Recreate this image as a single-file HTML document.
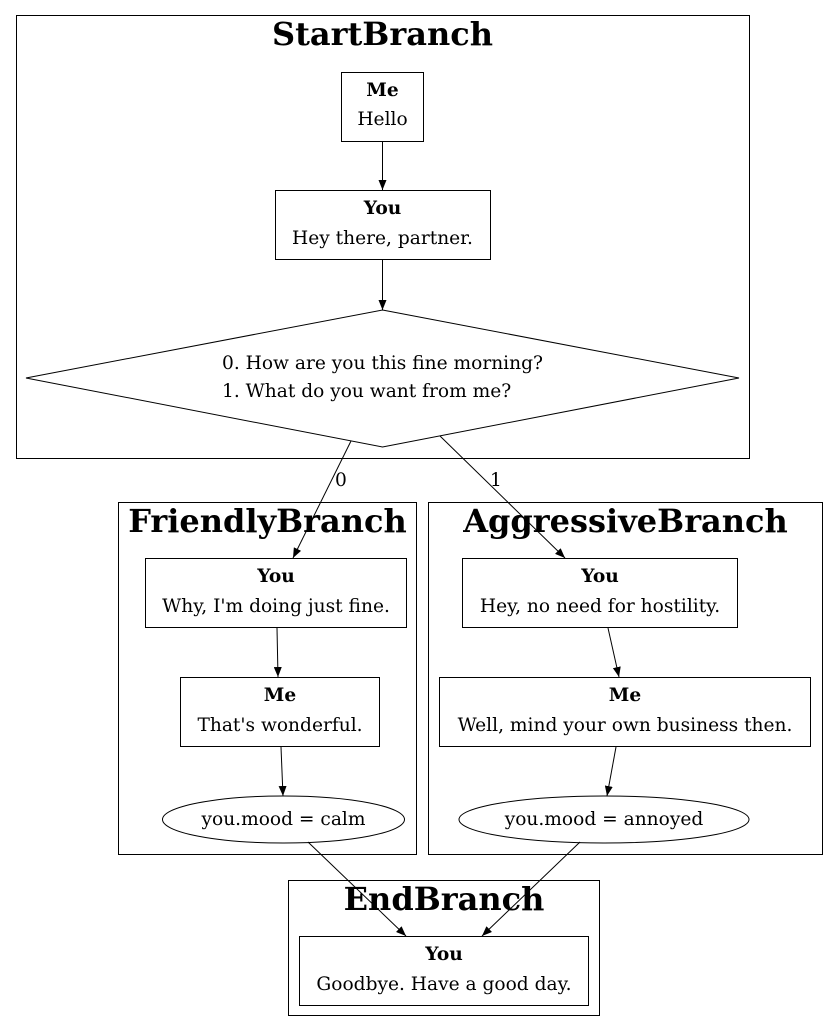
<!DOCTYPE html>
<html><head><meta charset="utf-8"><style>
html,body{margin:0;padding:0;background:#fff;}
svg{display:block;}
text{font-family:"DejaVu Serif","Liberation Serif",serif;fill:#000;}
.t{font-size:18.6px;}
.b{font-size:18.6px;font-weight:bold;}
.h{font-size:32px;font-weight:bold;}
.l{font-size:18.6px;}
</style></head><body>
<svg width="839" height="1032" viewBox="0 0 839 1032" xmlns="http://www.w3.org/2000/svg">
<defs><marker id="a" markerWidth="10" markerHeight="8" refX="10" refY="4" orient="auto" markerUnits="userSpaceOnUse"><path d="M0,0 L10,4 L0,8 z" fill="#000"/></marker></defs>
<g fill="none" stroke="#000" stroke-width="1">
<rect x="16.5" y="15.5" width="733" height="443"/>
<rect x="118.5" y="502.5" width="298" height="352"/>
<rect x="428.5" y="502.5" width="394" height="352"/>
<rect x="288.5" y="880.5" width="311" height="135"/>
<rect x="341.5" y="72.5" width="82" height="69"/>
<rect x="275.5" y="190.5" width="215" height="69"/>
<polygon points="382.5,310 739,378 382.5,447 26,378"/>
<rect x="145.5" y="558.5" width="261" height="69"/>
<rect x="180.5" y="677.5" width="199" height="69"/>
<ellipse cx="283.5" cy="819.5" rx="121" ry="23.5"/>
<rect x="462.5" y="558.5" width="275" height="69"/>
<rect x="439.5" y="677.5" width="371" height="69"/>
<ellipse cx="604" cy="819.5" rx="145" ry="23.5"/>
<rect x="299.5" y="936.5" width="289" height="69"/>
<g marker-end="url(#a)">
<line x1="382.5" y1="142" x2="382.5" y2="190"/>
<line x1="382.5" y1="260" x2="382.5" y2="310"/>
<line x1="351" y1="441" x2="293" y2="558"/>
<line x1="440" y1="436" x2="565" y2="558"/>
<line x1="277" y1="628" x2="278" y2="677"/>
<line x1="281" y1="747" x2="283" y2="796"/>
<line x1="608" y1="628" x2="619" y2="677"/>
<line x1="616" y1="747" x2="607" y2="796"/>
<line x1="308" y1="842" x2="406" y2="936"/>
<line x1="580" y1="842" x2="482" y2="936"/>
</g>
</g>
<text class="h" x="382.5" y="45" text-anchor="middle">StartBranch</text>
<text class="h" x="267.5" y="532" text-anchor="middle">FriendlyBranch</text>
<text class="h" x="625.5" y="532" text-anchor="middle">AggressiveBranch</text>
<text class="h" x="444" y="910" text-anchor="middle">EndBranch</text>
<text class="b" x="382.5" y="96" text-anchor="middle">Me</text>
<text class="t" x="382.5" y="125" text-anchor="middle">Hello</text>
<text class="b" x="382.5" y="214" text-anchor="middle">You</text>
<text class="t" x="382.5" y="244" text-anchor="middle">Hey there, partner.</text>
<text class="t" x="222" y="369">0. How are you this fine morning?</text>
<text class="t" x="222" y="397">1. What do you want from me?</text>
<text class="l" x="335" y="486">0</text>
<text class="l" x="490" y="486">1</text>
<text class="b" x="276" y="582" text-anchor="middle">You</text>
<text class="t" x="276" y="612" text-anchor="middle">Why, I'm doing just fine.</text>
<text class="b" x="280" y="701" text-anchor="middle">Me</text>
<text class="t" x="280" y="731" text-anchor="middle">That's wonderful.</text>
<text class="t" x="283.5" y="825" text-anchor="middle">you.mood = calm</text>
<text class="b" x="600" y="582" text-anchor="middle">You</text>
<text class="t" x="600" y="612" text-anchor="middle">Hey, no need for hostility.</text>
<text class="b" x="625" y="701" text-anchor="middle">Me</text>
<text class="t" x="625" y="731" text-anchor="middle">Well, mind your own business then.</text>
<text class="t" x="604" y="825" text-anchor="middle">you.mood = annoyed</text>
<text class="b" x="444" y="960" text-anchor="middle">You</text>
<text class="t" x="444" y="990" text-anchor="middle">Goodbye. Have a good day.</text>
</svg>
</body></html>
